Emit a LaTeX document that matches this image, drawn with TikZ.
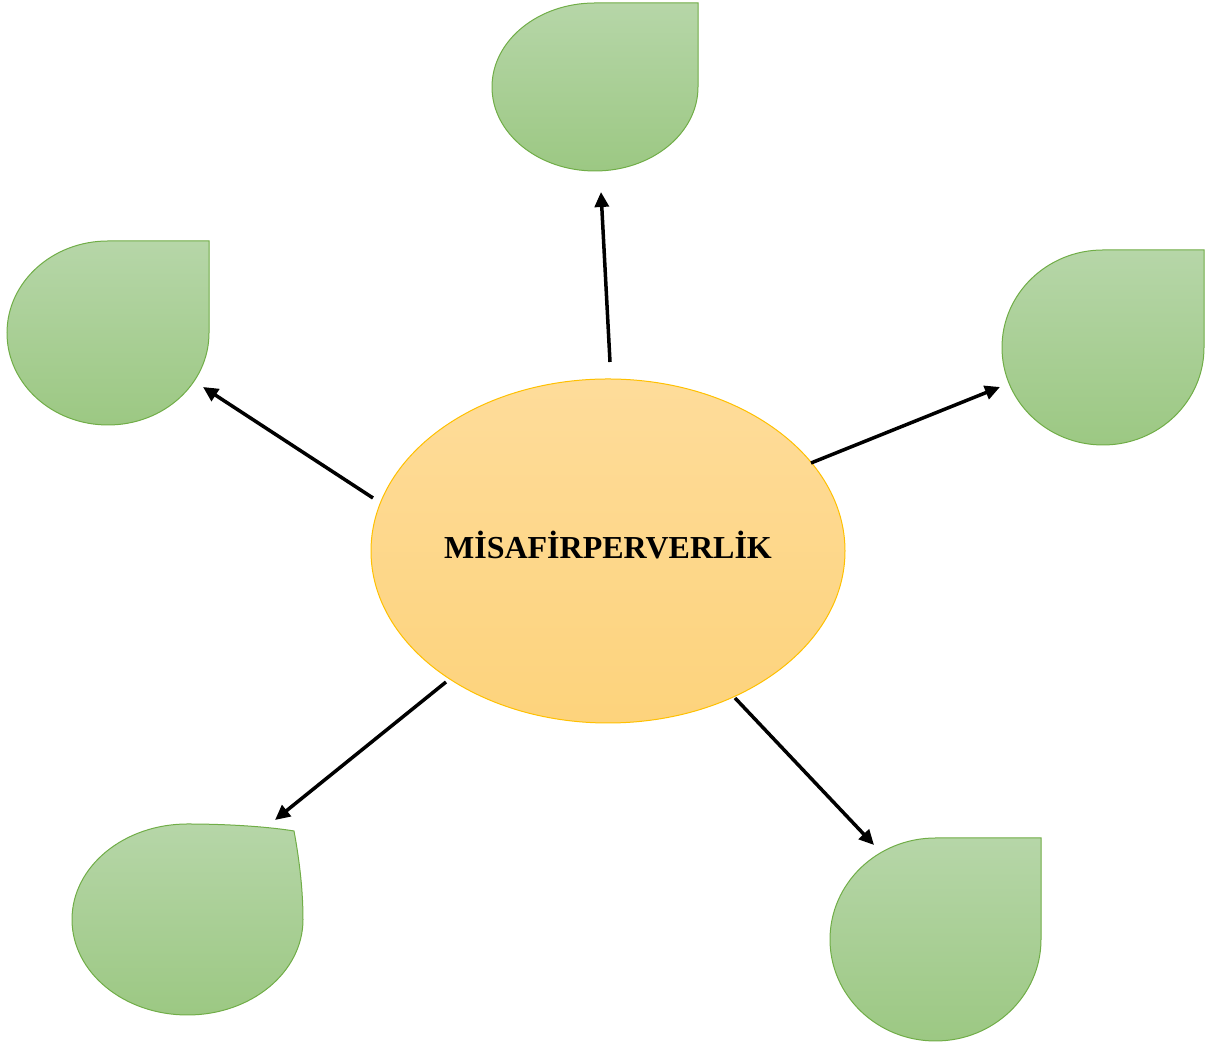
\documentclass[tikz,border=0pt]{standalone}
\usepackage{fontspec}
\setmainfont{Liberation Serif}
\usetikzlibrary{arrows.meta}
\definecolor{gtop}{HTML}{B6D6A8}
\definecolor{gbot}{HTML}{9CC883}
\definecolor{gedge}{HTML}{70AD47}
\definecolor{otop}{HTML}{FEDC9A}
\definecolor{obot}{HTML}{FDD37C}
\definecolor{oedge}{HTML}{FFC000}
\tikzset{
  drop/.style={draw=gedge, line width=1pt, top color=gtop, bottom color=gbot},
  link/.style={line width=3.5pt, -{Triangle[length=15pt,width=14pt]}}
}
\newcommand\tdrop[5]{%
  \path[drop] ({#1-#3},#2) arc[start angle=180,end angle=90,x radius=#3,y radius=#4]
    -- ({#1+#3},{#2+#4}) -- ({#1+#3},#2)
    arc[start angle=0,end angle=-180,x radius=#3,y radius=#4] -- cycle;
  \coordinate (#5) at (#1,#2);
}
\begin{document}
\begin{tikzpicture}[x=1pt,y=1pt]
\useasboundingbox (0,0) rectangle (1208,1043);
% central ellipse
\path[draw=oedge, line width=1pt, top color=otop, bottom color=obot]
  (608,492) ellipse[x radius=237, y radius=172];
\node[font=\fontsize{32}{38}\selectfont\bfseries] (main) at (608,498) {MİSAFİRPERVERLİK};
% teardrops
\tdrop{595}{956}{103}{84}{top}
\tdrop{108}{710}{101}{92}{left}
\tdrop{1103}{695.5}{101}{97.5}{right}
\tdrop{935.5}{103.5}{105.5}{101.5}{bright}
\path[drop] (72,123.5) arc[start angle=180,end angle=90,x radius=115.5,y radius=95.5]
  .. controls (230,219) and (270,216) .. (294,212)
  .. controls (300,180) and (303,150) .. (303,123.5)
  arc[start angle=0,end angle=-180,x radius=115.5,y radius=95.5] -- cycle;
\coordinate (bleft) at (187.5,123.5);
% arrow endpoints
\coordinate (s1) at (610,681); \coordinate (e1) at (601,851);
\coordinate (s2) at (373,545); \coordinate (e2) at (203,656);
\coordinate (s3) at (811,580); \coordinate (e3) at (1000,656);
\coordinate (s4) at (446,361); \coordinate (e4) at (275,223);
\coordinate (s5) at (735,345); \coordinate (e5) at (874,198);
\draw[link] (s1) -- (e1);
\draw[link] (s2) -- (e2);
\draw[link] (s3) -- (e3);
\draw[link] (s4) -- (e4);
\draw[link] (s5) -- (e5);
\end{tikzpicture}
\end{document}
